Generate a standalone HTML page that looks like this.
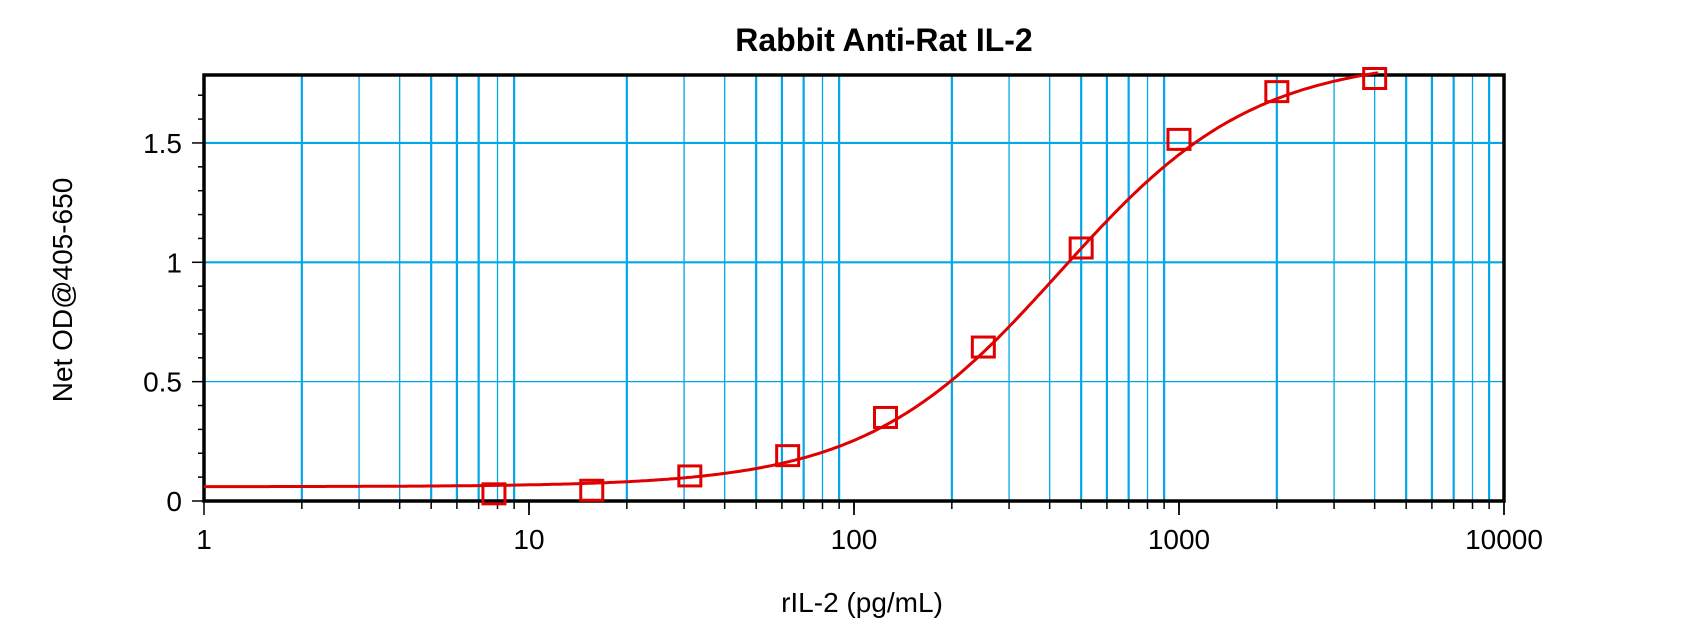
<!DOCTYPE html>
<html><head><meta charset="utf-8"><style>
html,body{margin:0;padding:0;background:#fff;width:1700px;height:640px;overflow:hidden}
text{font-family:"Liberation Sans",Arial,sans-serif}
</style></head><body>
<svg id="s" width="1700" height="640" xmlns="http://www.w3.org/2000/svg">
<text x="884" y="51" font-size="32" font-weight="bold" text-anchor="middle">Rabbit Anti-Rat IL-2</text>
<text x="862" y="612" font-size="28" text-anchor="middle">rIL-2 (pg/mL)</text>
<text transform="translate(72,290) rotate(-90)" font-size="28" text-anchor="middle">Net OD@405-650</text>
<g id="g"></g>
</svg>
<script>
const X0=204,D=325,Y0=501,U=238.7,T=75,R=1504;
const g=document.getElementById('g');let h='';
const xp=v=>X0+Math.log10(v)*D, yp=v=>Y0-v*U;
for(let d=0;d<4;d++)for(let m=1;m<=10;m++){if(m==1&&d==0)continue;const x=xp(m*Math.pow(10,d));
 const w=(m==1||m==10)?0:( [2,5,6,7,9].includes(m)?2.2:1.3);
 if(w) h+=`<line x1="${x}" y1="${T}" x2="${x}" y2="${Y0}" stroke="#00a8e8" stroke-width="${w}"/>`;
 h+=`<line x1="${x}" y1="${Y0}" x2="${x}" y2="${Y0+(m==10?14:8)}" stroke="#000" stroke-width="1.5"/>`;}
[[0.5,1.3],[1,2.2],[1.5,2.2]].forEach(([v,w])=>h+=`<line x1="${X0}" y1="${yp(v)}" x2="${R}" y2="${yp(v)}" stroke="#00a8e8" stroke-width="${w}"/>`);
for(let k=0;k<=17;k++){const y=yp(k/10);h+=`<line x1="${X0-(k%5==0?12:6)}" y1="${y}" x2="${X0}" y2="${y}" stroke="#000" stroke-width="1.5"/>`;}
[1,10,100,1000,10000].forEach(v=>{const x=xp(v);h+=`<line x1="${x}" y1="${Y0}" x2="${x}" y2="${Y0+14}" stroke="#000" stroke-width="1.5"/><text x="${x}" y="549" font-size="28" text-anchor="middle">${v}</text>`;});
[[0,'0'],[0.5,'0.5'],[1,'1'],[1.5,'1.5']].forEach(([v,s])=>h+=`<text x="${X0-22}" y="${yp(v)+10}" font-size="28" text-anchor="end">${s}</text>`);
h+=`<rect x="${X0}" y="${T}" width="${R-X0}" height="${Y0-T}" fill="none" stroke="#000" stroke-width="3.5"/>`;
let p='';for(let i=0;i<=400;i++){const lx=i/400*Math.log10(4100);const v=Math.pow(10,lx);const r=Math.pow(v/430,1.45);const y=0.06+1.8*r/(1+r);p+=(i?'L':'M')+xp(v).toFixed(1)+','+yp(y).toFixed(1);}
h+=`<path d="${p}" fill="none" stroke="#e00000" stroke-width="3"/>`;
[[7.8,0.03],[15.6,0.045],[31.25,0.105],[62.5,0.19],[125,0.35],[250,0.645],[500,1.06],[1000,1.515],[2000,1.715],[4000,1.77]].forEach(([a,b])=>h+=`<rect x="${xp(a)-11}" y="${yp(b)-10}" width="22" height="20" fill="none" stroke="#e00000" stroke-width="3"/>`);
g.innerHTML=h;
</script>
</body></html>
